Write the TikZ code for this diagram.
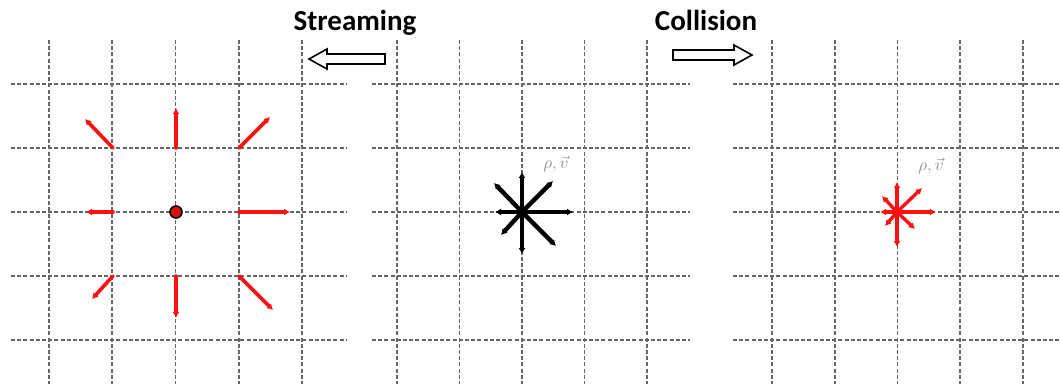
\documentclass[tikz,border=0pt]{standalone}
\usepackage{amsmath,amssymb}
\usepackage{xcolor}
\usepackage{fontspec}
\usepackage{tikz}
\usetikzlibrary{arrows.meta}
\newfontfamily\headfont{Carlito}
\definecolor{gridgray}{HTML}{666666}
\definecolor{vecred}{HTML}{FF1010}
\definecolor{labgray}{HTML}{8A8A8A}
\tikzset{fig/.style={line join=round,>=Stealth},
 lattice/.style={gridgray,line width=1.7pt,dash pattern=on 4pt off 2.2pt},
 vec/.style={line width=3.6pt,line cap=round,-{Latex[length=6pt,width=7pt]}},
 hollow/.style={draw=black,fill=white,line width=1.6pt,line join=miter},
 head/.style={font=\headfont\bfseries\fontsize{29}{32}\selectfont,anchor=base}}

\begin{document}
\begin{tikzpicture}[fig,x=1pt,y=-1pt]
 \useasboundingbox (0,0) rectangle (1060,384);
 \fill[white] (0,0) rectangle (1060,384);
 % three lattices
 \foreach \off/\d/\xa/\xb in {49/63.25/11/346, 397/62.5/372/690, 772/62.75/733/1060}{
  \foreach \k in {0,...,4}{
   \draw[lattice](\off+\k*\d,40)--(\off+\k*\d,384);
   \draw[lattice](\xa,84+\k*64)--(\xb,84+\k*64);}}
 \coordinate (c1) at (176,212); \coordinate (c2) at (522,212); \coordinate (c3) at (897,212);
 % populations: streamed, before and after collision
 \foreach \i/\j/\u/\v/\p/\q in {-1/-1/-28/-29/-15/-16, 0/-1/0/-40/0/-30, 1/-1/31/-31/25/-24, -1/0/-27/0/-17/0,
   1/0/51/0/39/0, -1/1/-21/23/-12/14, 0/1/0/42/0/35, 1/1/34/34/18/17}{
  \draw[vec,vecred](c1)++(63*\i,64*\j)--++(\u,\v);
  \draw[vec,line width=4.4pt](c2)--++(\u,\v);
  \draw[vec,vecred,line width=3.4pt](c3)--++(\p,\q);}
 \node[circle,draw=black,fill=vecred!85!black,line width=1.6pt,inner sep=0pt,minimum size=12pt](src) at (c1){};
 \node[labgray,font=\fontsize{16}{18}\selectfont](lab2) at (556,164){$\rho,\vec v$};
 \node[labgray,font=\fontsize{16}{18}\selectfont](lab3) at (931,166){$\rho,\vec v$};
 % steps
 \node[head](stream) at (355,30){Streaming};
 \node[head](coll) at (706,30){Collision};
 \draw[hollow](309,59)--(327,49)--(327,54)--(385,54)--(385,64)--(327,64)--(327,69)--cycle;
 \draw[hollow](752,55)--(734,45)--(734,50)--(673,50)--(673,60)--(734,60)--(734,65)--cycle;
\end{tikzpicture}
\end{document}
